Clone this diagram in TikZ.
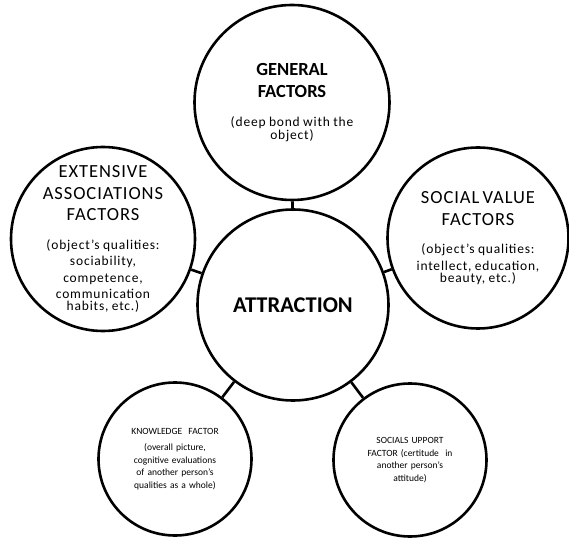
\documentclass[tikz,border=0pt]{standalone}
\usepackage{fontspec}
\setsansfont{Carlito}
\usepackage{tikz}
\usetikzlibrary{positioning}

% 見出しと説明文の文字サイズ
\newcommand{\headfont}{\fontsize{18.5}{21.5}\selectfont\addfontfeatures{LetterSpace=5}}
\newcommand{\notefont}{\fontsize{13.5}{16.5}\selectfont\addfontfeatures{LetterSpace=6}}

\begin{document}
\begin{tikzpicture}[
    x=1pt, y=1pt,
    % 円の基本デザイン
    bubble/.style={circle, draw, line width=2.6pt, inner sep=0pt},
    % 円どうしをつなぐ短い線
    link/.style={line width=2.6pt},
    % 円の中の文字
    txt/.style={align=center, inner sep=0pt, text width=150pt, font=\sffamily},
    small/.style={align=center, inner sep=0pt, text width=110pt, font=\sffamily\fontsize{9.5}{12.5}\selectfont}
]

% 0. 絵の範囲
\useasboundingbox (-293,-232) rectangle (276,305);

% 1. 各円（ノード）の配置
\node [bubble, minimum size=191pt, font=\sffamily\bfseries\fontsize{22.5}{27}\selectfont] (attraction) at (0,0) {ATTRACTION};
\node [bubble, minimum size=195pt] (general) at (-1,202.5) {};
\node [bubble, minimum size=184pt] (assoc) at (-190,66) {};
\node [bubble, minimum size=181pt] (value) at (185,67) {};
\node [bubble, minimum size=153pt] (knowledge) at (-118,-154) {};
\node [bubble, minimum size=153pt] (support) at (117,-155) {};

% 2. 円の中の文字
\node [txt] (general-txt) at (general) {%
  \fontsize{18.5}{22}\selectfont\bfseries GENERAL\\FACTORS\par
  \vspace{12pt}\mdseries\notefont (deep bond with the\\object)};
\node [txt] (assoc-txt) at (assoc) {%
  \headfont EXTENSIVE\\ASSOCIATIONS\\FACTORS\par
  \vspace{12pt}\notefont (object's qualities:\\sociability,\\competence,\\communication\\habits, etc.)};
\node [txt] (value-txt) at (value) {%
  \headfont SOCIAL VALUE\\FACTORS\par
  \vspace{12pt}\notefont (object's qualities:\\intellect, education,\\beauty, etc.)};
\node [small] (knowledge-txt) at (knowledge) {%
  KNOWLEDGE \ FACTOR\par
  \vspace{4pt}(overall picture,\\cognitive evaluations\\of another person's\\qualities as a whole)};
\node [small] (support-txt) at (support) {%
  SOCIALS UPPORT\\FACTOR (certitude \ in\\another person's\\attitude)};

% 3. 中央の円と周りの円を線でつなぐ
\foreach \outer in {general, assoc, value, knowledge, support}
  \draw [link] (attraction) -- (\outer);

\end{tikzpicture}
\end{document}
